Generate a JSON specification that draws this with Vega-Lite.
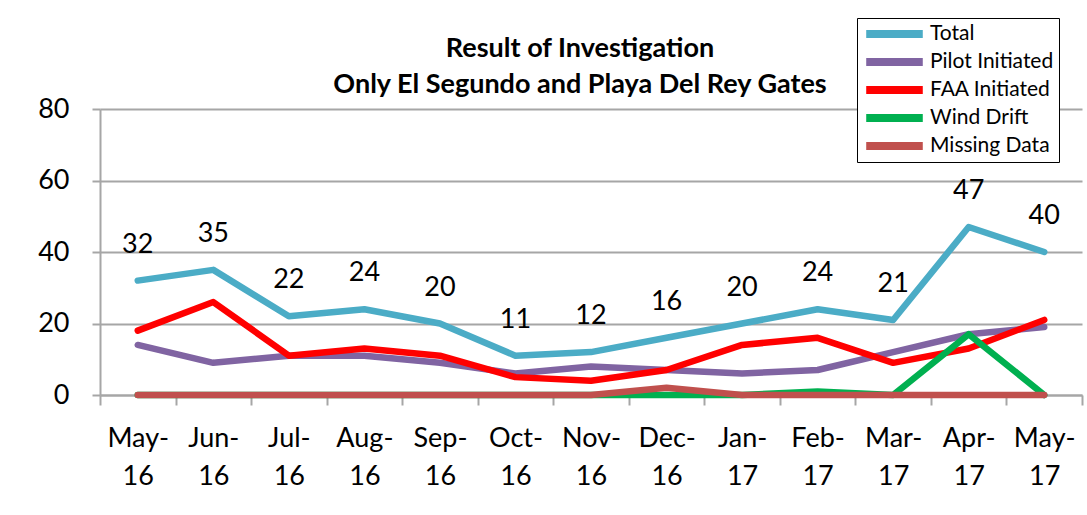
{
  "$schema": "https://vega.github.io/schema/vega-lite/v6.json",
  "width": 982,
  "height": 286,
  "autosize": {"type": "none"},
  "padding": {"left": 100, "top": 109, "right": 5, "bottom": 120},
  "background": "white",
  "config": {
    "view": {"stroke": null},
    "font": "Lato",
    "legend": {"orient": "none"}
  },
  "title": {
    "text": ["Result of Investigation", "Only El Segundo and Playa Del Rey Gates"],
    "fontSize": 27,
    "fontWeight": "bold",
    "font": "Lato",
    "color": "black",
    "anchor": "middle",
    "lineHeight": 36,
    "dx": -11,
    "dy": 93,
    "offset": 12
  },
  "data": {
    "values": [
      {"month": "May-16", "series": "Total", "value": 32},
      {"month": "Jun-16", "series": "Total", "value": 35},
      {"month": "Jul-16", "series": "Total", "value": 22},
      {"month": "Aug-16", "series": "Total", "value": 24},
      {"month": "Sep-16", "series": "Total", "value": 20},
      {"month": "Oct-16", "series": "Total", "value": 11},
      {"month": "Nov-16", "series": "Total", "value": 12},
      {"month": "Dec-16", "series": "Total", "value": 16},
      {"month": "Jan-17", "series": "Total", "value": 20},
      {"month": "Feb-17", "series": "Total", "value": 24},
      {"month": "Mar-17", "series": "Total", "value": 21},
      {"month": "Apr-17", "series": "Total", "value": 47},
      {"month": "May-17", "series": "Total", "value": 40},
      {"month": "May-16", "series": "Pilot Initiated", "value": 14},
      {"month": "Jun-16", "series": "Pilot Initiated", "value": 9},
      {"month": "Jul-16", "series": "Pilot Initiated", "value": 11},
      {"month": "Aug-16", "series": "Pilot Initiated", "value": 11},
      {"month": "Sep-16", "series": "Pilot Initiated", "value": 9},
      {"month": "Oct-16", "series": "Pilot Initiated", "value": 6},
      {"month": "Nov-16", "series": "Pilot Initiated", "value": 8},
      {"month": "Dec-16", "series": "Pilot Initiated", "value": 7},
      {"month": "Jan-17", "series": "Pilot Initiated", "value": 6},
      {"month": "Feb-17", "series": "Pilot Initiated", "value": 7},
      {"month": "Mar-17", "series": "Pilot Initiated", "value": 12},
      {"month": "Apr-17", "series": "Pilot Initiated", "value": 17},
      {"month": "May-17", "series": "Pilot Initiated", "value": 19},
      {"month": "May-16", "series": "FAA Initiated", "value": 18},
      {"month": "Jun-16", "series": "FAA Initiated", "value": 26},
      {"month": "Jul-16", "series": "FAA Initiated", "value": 11},
      {"month": "Aug-16", "series": "FAA Initiated", "value": 13},
      {"month": "Sep-16", "series": "FAA Initiated", "value": 11},
      {"month": "Oct-16", "series": "FAA Initiated", "value": 5},
      {"month": "Nov-16", "series": "FAA Initiated", "value": 4},
      {"month": "Dec-16", "series": "FAA Initiated", "value": 7},
      {"month": "Jan-17", "series": "FAA Initiated", "value": 14},
      {"month": "Feb-17", "series": "FAA Initiated", "value": 16},
      {"month": "Mar-17", "series": "FAA Initiated", "value": 9},
      {"month": "Apr-17", "series": "FAA Initiated", "value": 13},
      {"month": "May-17", "series": "FAA Initiated", "value": 21},
      {"month": "May-16", "series": "Wind Drift", "value": 0},
      {"month": "Jun-16", "series": "Wind Drift", "value": 0},
      {"month": "Jul-16", "series": "Wind Drift", "value": 0},
      {"month": "Aug-16", "series": "Wind Drift", "value": 0},
      {"month": "Sep-16", "series": "Wind Drift", "value": 0},
      {"month": "Oct-16", "series": "Wind Drift", "value": 0},
      {"month": "Nov-16", "series": "Wind Drift", "value": 0},
      {"month": "Dec-16", "series": "Wind Drift", "value": 0},
      {"month": "Jan-17", "series": "Wind Drift", "value": 0},
      {"month": "Feb-17", "series": "Wind Drift", "value": 1},
      {"month": "Mar-17", "series": "Wind Drift", "value": 0},
      {"month": "Apr-17", "series": "Wind Drift", "value": 17},
      {"month": "May-17", "series": "Wind Drift", "value": 0},
      {"month": "May-16", "series": "Missing Data", "value": 0},
      {"month": "Jun-16", "series": "Missing Data", "value": 0},
      {"month": "Jul-16", "series": "Missing Data", "value": 0},
      {"month": "Aug-16", "series": "Missing Data", "value": 0},
      {"month": "Sep-16", "series": "Missing Data", "value": 0},
      {"month": "Oct-16", "series": "Missing Data", "value": 0},
      {"month": "Nov-16", "series": "Missing Data", "value": 0},
      {"month": "Dec-16", "series": "Missing Data", "value": 2},
      {"month": "Jan-17", "series": "Missing Data", "value": 0},
      {"month": "Feb-17", "series": "Missing Data", "value": 0},
      {"month": "Mar-17", "series": "Missing Data", "value": 0},
      {"month": "Apr-17", "series": "Missing Data", "value": 0},
      {"month": "May-17", "series": "Missing Data", "value": 0}
    ]
  },
  "encoding": {
    "x": {
      "field": "month",
      "type": "ordinal",
      "sort": null,
      "scale": {"type": "band", "paddingInner": 0, "paddingOuter": 0},
      "axis": {
        "title": null,
        "labelAngle": 0,
        "labelFontSize": 27,
        "labelColor": "black",
        "labelFont": "Lato",
        "labelBaseline": "top",
        "labelLineHeight": 38,
        "labelPadding": 20,
        "labelExpr": "datum.label ? [split(datum.label, '-')[0] + '-', split(datum.label, '-')[1]] : ''",
        "tickBand": "extent",
        "tickSize": 10,
        "tickWidth": 2,
        "tickColor": "#a6a6a6",
        "domainColor": "#a6a6a6",
        "domainWidth": 2,
        "grid": false
      }
    },
    "y": {
      "field": "value",
      "type": "quantitative",
      "scale": {"domain": [0, 80], "nice": false},
      "axis": {
        "title": null,
        "values": [0, 20, 40, 60, 80],
        "labelFontSize": 27,
        "labelColor": "black",
        "labelFont": "Lato",
        "labelPadding": 23,
        "tickSize": 8,
        "tickWidth": 2,
        "tickColor": "#a6a6a6",
        "domainColor": "#a6a6a6",
        "domainWidth": 2,
        "grid": true,
        "gridColor": "#a6a6a6",
        "gridWidth": 2
      }
    }
  },
  "layer": [
    {
      "mark": {"type": "line", "strokeWidth": 6.5, "strokeJoin": "round", "strokeCap": "round"},
      "encoding": {
        "color": {
          "field": "series",
          "type": "nominal",
          "sort": null,
          "scale": {
            "domain": ["Total", "Pilot Initiated", "FAA Initiated", "Wind Drift", "Missing Data"],
            "range": ["#4bacc6", "#8064a2", "#ff0000", "#00b050", "#c0504d"]
          },
          "legend": {
            "title": null,
            "orient": "none",
            "legendX": 757,
            "legendY": -91,
            "strokeColor": "black",
            "fillColor": "white",
            "padding": 5,
            "labelFontSize": 21,
            "labelColor": "black",
            "labelFont": "Lato",
            "labelOffset": 3,
            "symbolType": "stroke",
            "symbolSize": 3200,
            "symbolStrokeWidth": 8,
            "rowPadding": 6,
            "clipHeight": 22
          }
        }
      }
    },
    {
      "transform": [{"filter": "datum.series === 'Total'"}],
      "mark": {"type": "text", "dy": -36, "fontSize": 27, "font": "Lato", "color": "black"},
      "encoding": {
        "text": {"field": "value", "type": "quantitative"}
      }
    }
  ]
}
